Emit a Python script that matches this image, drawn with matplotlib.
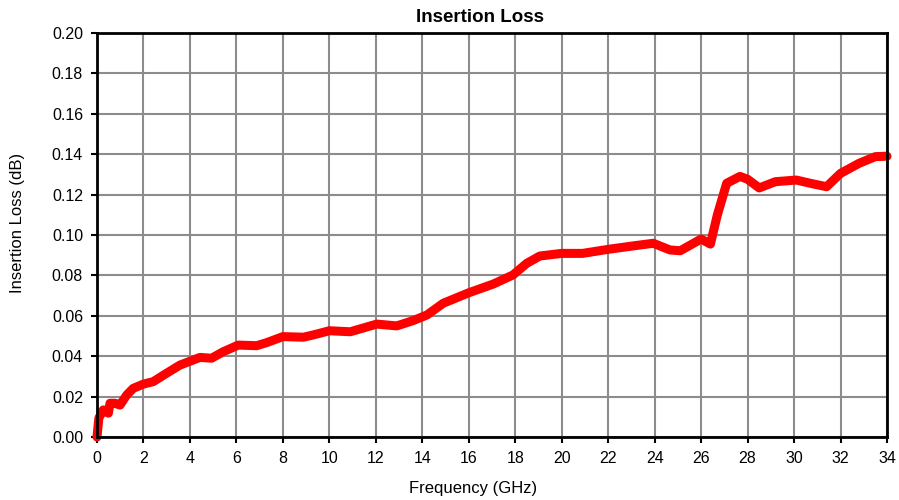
import matplotlib
matplotlib.use("Agg")
import matplotlib.pyplot as plt

plt.rcParams['font.family'] = ['Liberation Sans', 'DejaVu Sans']

freq_ghz = [0.0, 0.08, 0.27, 0.49, 0.56, 0.77, 0.99, 1.28, 1.56, 2.0, 2.42, 3.0, 3.57,
            4.43, 4.93, 5.43, 6.08, 6.87, 7.3, 8.0, 8.88, 9.3, 10.0, 10.9, 12.04, 12.9,
            13.6, 14.2, 14.9, 16.0, 17.05, 17.9, 18.5, 19.06, 20.0, 20.9, 22.0, 23.07,
            23.94, 24.66, 25.1, 26.0, 26.4, 26.7, 27.1, 27.67, 28.0, 28.5, 29.2, 30.1,
            30.7, 31.4, 32.0, 32.8, 33.5, 34.0]
loss_db = [0.0, 0.0094, 0.0134, 0.0118, 0.0167, 0.0167, 0.0158, 0.0208, 0.0241, 0.0262,
           0.0274, 0.0316, 0.0356, 0.0394, 0.039, 0.0422, 0.0455, 0.0452, 0.0467, 0.0497,
           0.0494, 0.0505, 0.0526, 0.0521, 0.0559, 0.055, 0.0576, 0.0604, 0.0662, 0.0714,
           0.0757, 0.0802, 0.086, 0.0896, 0.0909, 0.0909, 0.0929, 0.0946, 0.0959, 0.0926,
           0.0922, 0.098, 0.0955, 0.110, 0.1256, 0.129, 0.1276, 0.1233, 0.1264, 0.1272,
           0.1256, 0.1239, 0.1305, 0.1355, 0.1388, 0.139]

x_ticks = list(range(0, 35, 2))
y_ticks = [0.00, 0.02, 0.04, 0.06, 0.08, 0.10, 0.12, 0.14, 0.16, 0.18, 0.20]

W, H = 899, 500
fig = plt.figure(figsize=(W / 100, H / 100), dpi=100)
ax = fig.add_axes([97 / W, (H - 437) / H, (887 - 97) / W, (437 - 33) / H])

ax.plot(freq_ghz, loss_db, color='#ff0000', linewidth=6.5, solid_joinstyle='round',
        solid_capstyle='round', zorder=3, clip_on=False)

ax.set_xlim(0, 34)
ax.set_ylim(0, 0.20)
ax.set_xticks(x_ticks)
ax.set_yticks(y_ticks)
ax.set_yticklabels([f"{v:.2f}" for v in y_ticks])
ax.grid(True, color='#8c8c8c', linewidth=1.5)
ax.set_axisbelow(True)
for s in ax.spines.values():
    s.set_color('black')
    s.set_linewidth(2)
    s.set_zorder(4)
ax.tick_params(direction='out', length=4, width=1.5, labelsize=11.5, pad=6)

fig.text(480 / W, 1 - 18 / H, 'Insertion Loss', fontsize=13.5, fontweight='bold',
         ha='center', va='center')
fig.text(473 / W, 1 - 489 / H, 'Frequency (GHz)', fontsize=12, ha='center', va='center')
fig.text(18 / W, 1 - 223 / H, 'Insertion Loss (dB)', fontsize=12, ha='center',
         va='center', rotation=90)

fig.savefig('out.png', dpi=100)
